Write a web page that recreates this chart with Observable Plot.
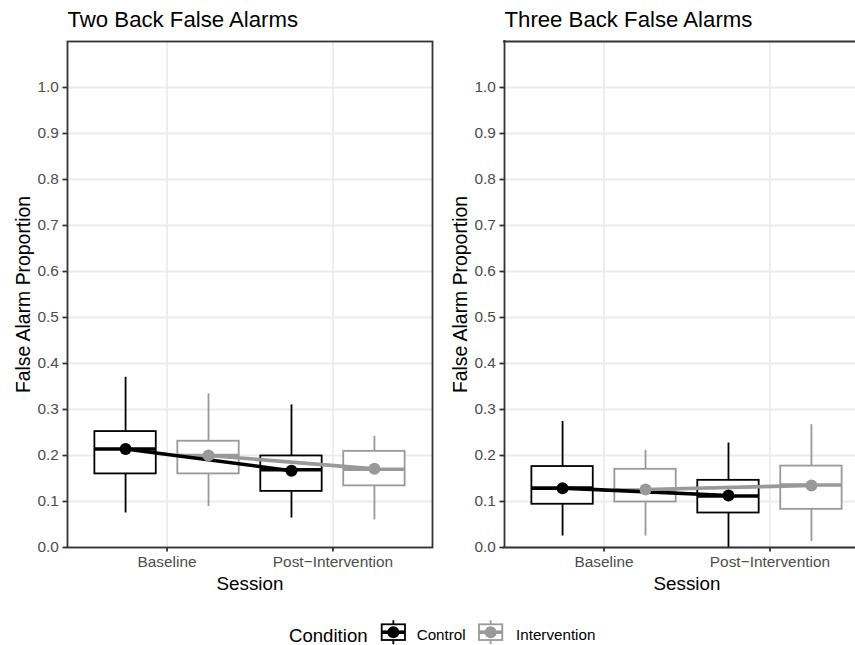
<!DOCTYPE html>
<html>
<head>
<meta charset="utf-8">
<script src="https://cdn.jsdelivr.net/npm/d3@7"></script>
<script src="https://cdn.jsdelivr.net/npm/@observablehq/plot@0.6"></script>
<style>
  html, body { margin: 0; padding: 0; background: white; overflow: hidden; }
  #wrap { position: relative; width: 855px; height: 645px; overflow: hidden; background: white; }
  #wrap > * { position: absolute; }
</style>
</head>
<body>
<div id="wrap"></div>
<script>
const sessions = ["Baseline", "Post\u2212Intervention"];
const conditions = ["Control", "Intervention"];
const conditionColors = ["#000000", "#999999"];
const yTicks = [0, 0.1, 0.2, 0.3, 0.4, 0.5, 0.6, 0.7, 0.8, 0.9, 1.0];

const groupSession = ["Baseline", "Baseline", "Post\u2212Intervention", "Post\u2212Intervention"];
const groupCondition = ["Control", "Intervention", "Control", "Intervention"];

const twoBackMin    = [0.075, 0.089, 0.064, 0.060];
const twoBackQ1     = [0.160, 0.160, 0.122, 0.134];
const twoBackMedian = [0.214, 0.200, 0.169, 0.170];
const twoBackQ3     = [0.252, 0.231, 0.199, 0.209];
const twoBackMax    = [0.370, 0.334, 0.310, 0.242];
const twoBackMean   = [0.214, 0.200, 0.167, 0.171];

const threeBackMin    = [0.025, 0.025, 0.000, 0.013];
const threeBackQ1     = [0.094, 0.099, 0.075, 0.083];
const threeBackMedian = [0.129, 0.125, 0.112, 0.136];
const threeBackQ3     = [0.176, 0.170, 0.146, 0.177];
const threeBackMax    = [0.274, 0.211, 0.227, 0.267];
const threeBackMean   = [0.129, 0.126, 0.113, 0.135];

const fontFamily = '"Liberation Sans", Arial, Helvetica, sans-serif';
const dodge = 0.25, halfBox = 0.185;
const xDomain = [0.4, 2.6], yDomain = [0, 1.1];

function rows(mn, q1, md, q3, mx, mean) {
  return groupSession.map((s, i) => ({
    session: s,
    condition: groupCondition[i],
    x: sessions.indexOf(s) + 1 + (conditions.indexOf(groupCondition[i]) === 0 ? -dodge : dodge),
    min: mn[i], q1: q1[i], median: md[i], q3: q3[i], max: mx[i], mean: mean[i]
  }));
}

function panel(title, data, svgWidth, fullFrame) {
  const border = fullFrame
    ? [Plot.frame({ stroke: "#333333", strokeWidth: 1.8 })]
    : [Plot.ruleX([xDomain[0]], { stroke: "#333333", strokeWidth: 1.8, strokeLinecap: "square" }),
       Plot.ruleY(yDomain, { stroke: "#333333", strokeWidth: 1.8, strokeLinecap: "square" })];
  return Plot.plot({
    width: svgWidth, height: 600,
    marginLeft: 67, marginRight: Math.max(0, svgWidth - 432), marginTop: 41, marginBottom: 53,
    style: { fontFamily, fontSize: "15.4px", background: "white" },
    x: { type: "linear", domain: xDomain, range: [67, 432] },
    y: { domain: yDomain },
    color: { domain: conditions, range: conditionColors },
    marks: [
      Plot.gridY(yTicks, { stroke: "#EBEBEB", strokeOpacity: 1, strokeWidth: 1.8 }),
      Plot.gridX([1, 2], { stroke: "#EBEBEB", strokeOpacity: 1, strokeWidth: 1.8 }),
      Plot.ruleX(data, { x: "x", y1: "min", y2: "q1", stroke: "condition", strokeWidth: 1.8 }),
      Plot.ruleX(data, { x: "x", y1: "q3", y2: "max", stroke: "condition", strokeWidth: 1.8 }),
      Plot.rect(data, { x1: d => d.x - halfBox, x2: d => d.x + halfBox, y1: "q1", y2: "q3", fill: "white", stroke: "condition", strokeWidth: 1.8 }),
      Plot.ruleY(data, { y: "median", x1: d => d.x - halfBox, x2: d => d.x + halfBox, stroke: "condition", strokeWidth: 3.6 }),
      Plot.line(data, { x: "x", y: "mean", z: "condition", stroke: "condition", strokeWidth: 3.6 }),
      Plot.dot(data, { x: "x", y: "mean", fill: "condition", r: 6 }),
      Plot.axisY(yTicks, { tickSize: 4.5, tickPadding: 4.2, tickFormat: d => d.toFixed(1), stroke: "#333333", fill: "#4D4D4D", color: "#4D4D4D", strokeWidth: 1.8, label: null }),
      Plot.axisX([1, 2], { tickSize: 4.5, tickPadding: 4.5, tickFormat: d => sessions[d - 1], stroke: "#333333", fill: "#4D4D4D", color: "#4D4D4D", strokeWidth: 1.8, label: null }),
      ...border,
      Plot.text([title], { text: d => d, frameAnchor: "top-left", dy: -14.3, lineAnchor: "bottom", textAnchor: "start", fontSize: 22.2, fill: "black" }),
      Plot.text(["False Alarm Proportion"], { text: d => d, x: () => xDomain[0], frameAnchor: "left", rotate: -90, dx: -37.7, lineAnchor: "bottom", textAnchor: "middle", fontSize: 19.4, fill: "black" }),
      Plot.text(["Session"], { text: d => d, x: () => (xDomain[0] + xDomain[1]) / 2, frameAnchor: "bottom", dy: 42.5, lineAnchor: "bottom", textAnchor: "middle", fontSize: 18.8, fill: "black" })
    ]
  });
}

const wrap = document.getElementById("wrap");
const p1 = panel("Two Back False Alarms", rows(twoBackMin, twoBackQ1, twoBackMedian, twoBackQ3, twoBackMax, twoBackMean), 437, true);
p1.style.left = "0px"; p1.style.top = "0px";
wrap.appendChild(p1);
const p2 = panel("Three Back False Alarms", rows(threeBackMin, threeBackQ1, threeBackMedian, threeBackQ3, threeBackMax, threeBackMean), 418, false);
p2.style.left = "437px"; p2.style.top = "0px";
wrap.appendChild(p2);

// legend
const ns = "http://www.w3.org/2000/svg";
const leg = document.createElementNS(ns, "svg");
leg.setAttribute("width", 855); leg.setAttribute("height", 45);
leg.style.left = "0px"; leg.style.top = "600px";
leg.style.fontFamily = fontFamily;
function el(tag, attrs, text) {
  const e = document.createElementNS(ns, tag);
  for (const k in attrs) e.setAttribute(k, attrs[k]);
  if (text) e.textContent = text;
  leg.appendChild(e);
  return e;
}
el("text", { x: 289, y: 41.5, "font-size": 18.6, fill: "black" }, "Condition");
const keyX = [381.7, 479], textX = [416.7, 516];
conditions.forEach((c, i) => {
  const col = conditionColors[i], x0 = keyX[i], cx = x0 + 11.65, cy = 32.2;
  el("line", { x1: cx, x2: cx, y1: 20.2, y2: 24.3, stroke: col, "stroke-width": 1.8 });
  el("line", { x1: cx, x2: cx, y1: 40, y2: 44.2, stroke: col, "stroke-width": 1.8 });
  el("rect", { x: x0, y: 24.3, width: 23.3, height: 15.7, fill: "white", stroke: col, "stroke-width": 1.8 });
  el("line", { x1: x0, x2: x0 + 23.3, y1: cy, y2: cy, stroke: col, "stroke-width": 3.6 });
  el("circle", { cx, cy, r: 6, fill: col });
  el("text", { x: textX[i], y: 40, "font-size": 15.2, fill: "black" }, c);
});
wrap.appendChild(leg);
</script>
</body>
</html>
